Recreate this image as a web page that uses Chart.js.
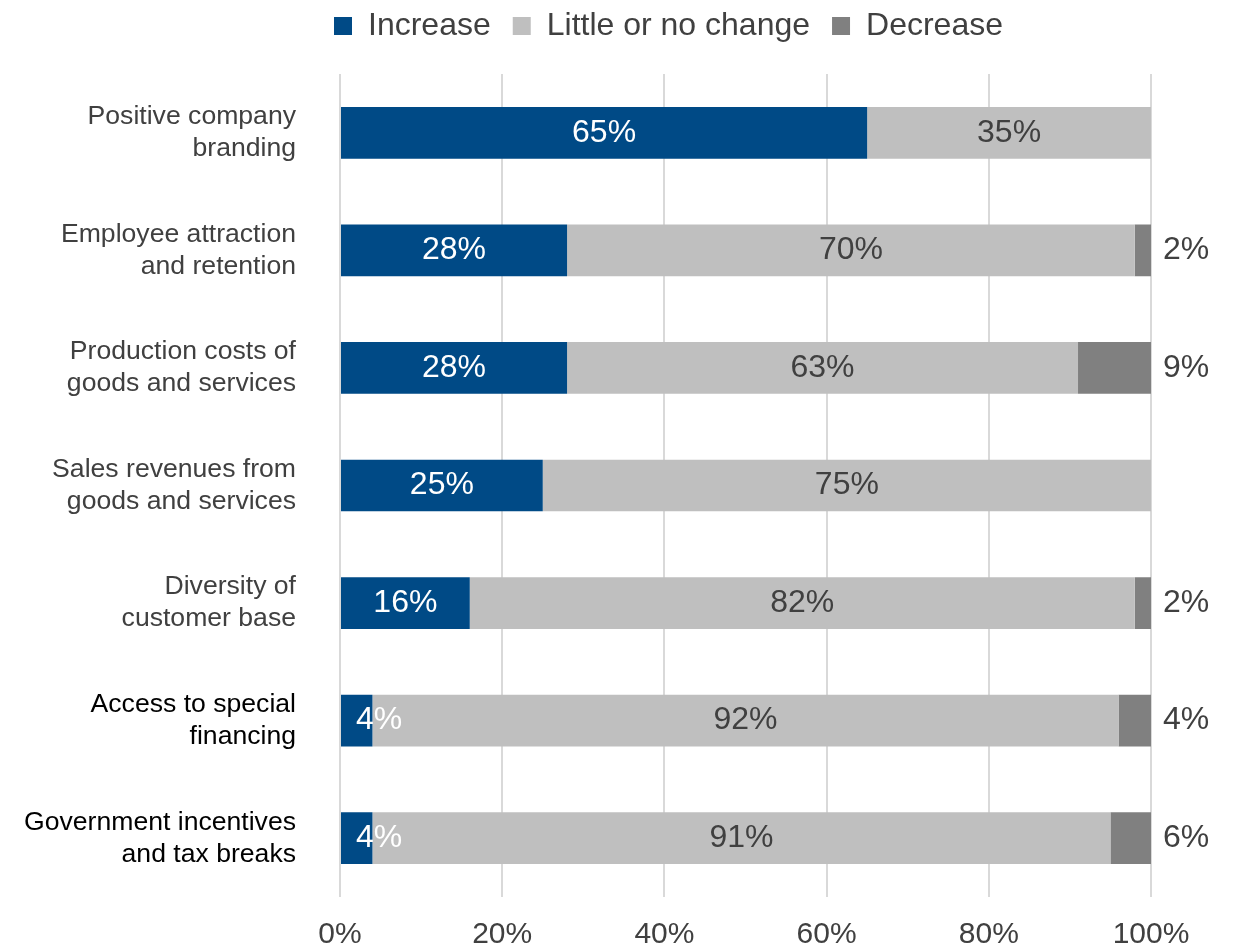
<!DOCTYPE html>
<html>
<head>
<meta charset="utf-8">
<script src="https://cdn.jsdelivr.net/npm/chart.js@4/dist/chart.umd.min.js"></script>
<style>
  html, body { margin: 0; padding: 0; background: #fff; }
  #wrap { width: 1239px; height: 947px; position: relative; }
</style>
</head>
<body>
<div id="wrap"><canvas id="grafica"></canvas></div>
<script>
// Categorías (varias líneas por etiqueta) y valores por serie, en %
const categorias = [
  ['Positive company', 'branding'],
  ['Employee attraction', 'and retention'],
  ['Production costs of', 'goods and services'],
  ['Sales revenues from', 'goods and services'],
  ['Diversity of', 'customer base'],
  ['Access to special', 'financing'],
  ['Government incentives', 'and tax breaks']
];
const aumento = [65, 28, 28, 25, 16, 4, 4];
const sinCambio = [35, 70, 63, 75, 82, 92, 91];
const disminucion = [0, 2, 9, 0, 2, 4, 6];
const ticksX = [0, 20, 40, 60, 80, 100];

const colores = ['#004A86', '#BFBFBF', '#808080'];
const textoOscuro = '#404040';
const fuente = '"Liberation Sans", Arial, sans-serif';

// Etiquetas de valor sobre cada segmento
const etiquetasValor = {
  id: 'etiquetasValor',
  afterDatasetsDraw(chart) {
    const ctx = chart.ctx;
    const area = chart.chartArea;
    ctx.save();
    ctx.font = '32px ' + fuente;
    ctx.textBaseline = 'middle';
    ctx.textAlign = 'center';
    chart.data.datasets.forEach((ds, i) => {
      const meta = chart.getDatasetMeta(i);
      meta.data.forEach((bar, j) => {
        const v = ds.data[j];
        if (!v) return;
        const txt = v + '%';
        if (i === 2) {
          ctx.fillStyle = textoOscuro;
          ctx.fillText(txt, area.right + 35, bar.y);
          return;
        }
        const w = ctx.measureText(txt).width;
        let x = (bar.x + bar.base) / 2;
        if (x - w / 2 < area.left + 16) x = area.left + 16 + w / 2;
        ctx.fillStyle = i === 0 ? '#ffffff' : textoOscuro;
        ctx.fillText(txt, x, bar.y);
      });
    });
    ctx.restore();
  }
};

// Desplaza la leyenda sin tocar el área del gráfico
const moverLeyenda = {
  id: 'moverLeyenda',
  afterLayout(chart) {
    const lg = chart.legend;
    lg.left += 93; lg.right += 93;
    lg.top -= 22; lg.bottom -= 22;
  }
};

const ctx = document.getElementById('grafica').getContext('2d');
const chart = new Chart(ctx, {
  type: 'bar',
  data: {
    labels: categorias,
    datasets: [
      { label: 'Increase', data: aumento, backgroundColor: colores[0] },
      { label: 'Little or no change', data: sinCambio, backgroundColor: colores[1] },
      { label: 'Decrease', data: disminucion, backgroundColor: colores[2] }
    ]
  },
  options: {
    indexAxis: 'y',
    responsive: true,
    maintainAspectRatio: false,
    animation: false,
    layout: { padding: { top: 10, right: 88, bottom: 0, left: 0 } },
    datasets: {
      bar: { categoryPercentage: 0.88, barPercentage: 0.5, borderWidth: 0 }
    },
    scales: {
      x: {
        stacked: true,
        min: 0,
        max: 100,
        afterBuildTicks(scale) {
          scale.ticks = ticksX.map(v => ({ value: v }));
        },
        afterFit(scale) { scale.height = 50; },
        grid: { color: '#D9D9D9', lineWidth: 2, drawTicks: false },
        border: { display: false },
        ticks: {
          padding: 23,
          color: textoOscuro,
          font: { family: fuente, size: 30, lineHeight: 1 },
          callback: v => v + '%'
        }
      },
      y: {
        stacked: true,
        afterFit(scale) {
          scale.width = 340;
          scale.paddingTop = 0;
          scale.paddingBottom = 0;
        },
        grid: { display: false, drawTicks: false },
        border: { display: false },
        ticks: {
          padding: 44,
          color: c => (c.index >= 5 ? '#000000' : textoOscuro),
          font: { family: fuente, size: 26.6, lineHeight: 1.2 }
        }
      }
    },
    plugins: {
      legend: {
        position: 'top',
        labels: {
          boxWidth: 18,
          boxHeight: 18,
          padding: 22,
          color: textoOscuro,
          font: { family: fuente, size: 32 }
        }
      },
      tooltip: { enabled: false }
    }
  },
  plugins: [etiquetasValor, moverLeyenda]
});
</script>
</body>
</html>
